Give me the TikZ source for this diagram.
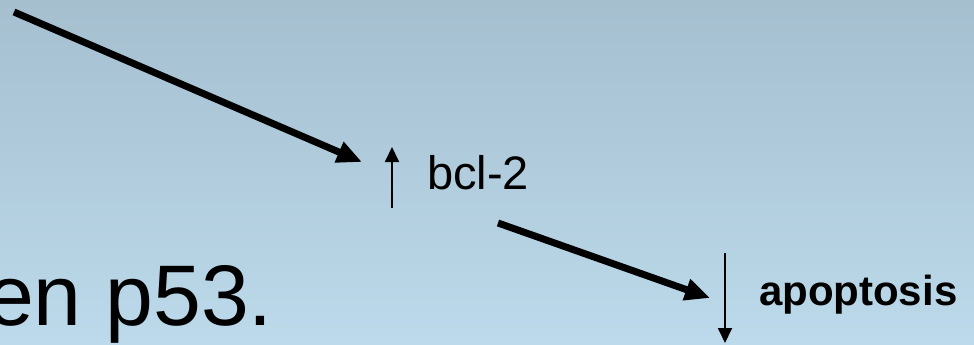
\documentclass[tikz,border=0pt]{standalone}
\usepackage{fontspec}
\setmainfont{Liberation Sans}
\usetikzlibrary{arrows.meta}
\definecolor{bgtop}{RGB}{165,191,207}
\definecolor{bgbottom}{RGB}{188,218,235}
\tikzset{
  thickarrow/.style={line width=7pt, -{Triangle[length=25pt,width=21pt]}},
  thinarrow/.style={line width=1.8pt, -{Triangle[length=15pt,width=14pt]}},
  label/.style={inner sep=0pt, outer sep=0pt, text=black}
}
\begin{document}
\begin{tikzpicture}[x=1pt,y=-1pt]
  \useasboundingbox (0,0) rectangle (974,345);
  \clip (0,0) rectangle (974,345);
  \shade[top color=bgtop, bottom color=bgbottom] (0,0) rectangle (974,345);

  % text
  \node[label, anchor=base east, font=\fontsize{86}{90}\selectfont] (p53) at (273,325) {en p53.};
  \node[label, anchor=base west, font=\fontsize{47}{50}\selectfont] (bcl) at (427,189) {bcl-2};
  \node[label, anchor=base west, font=\fontsize{42}{46}\selectfont\bfseries] (apop) at (759,305) {apoptosis};

  % arrow end points
  \coordinate (a1s) at (14,12);
  \coordinate (a1e) at (362,162);
  \coordinate (a2s) at (498,223);
  \coordinate (a2e) at (710,298);
  \coordinate (ups) at (392,208);
  \coordinate (upe) at (392,147);
  \coordinate (dns) at (725,253);
  \coordinate (dne) at (725,343);

  % connectors
  \draw[thickarrow] (a1s) -- (a1e);
  \draw[thickarrow] (a2s) -- (a2e);
  \draw[thinarrow] (ups) -- (upe);
  \draw[thinarrow] (dns) -- (dne);
\end{tikzpicture}
\end{document}
